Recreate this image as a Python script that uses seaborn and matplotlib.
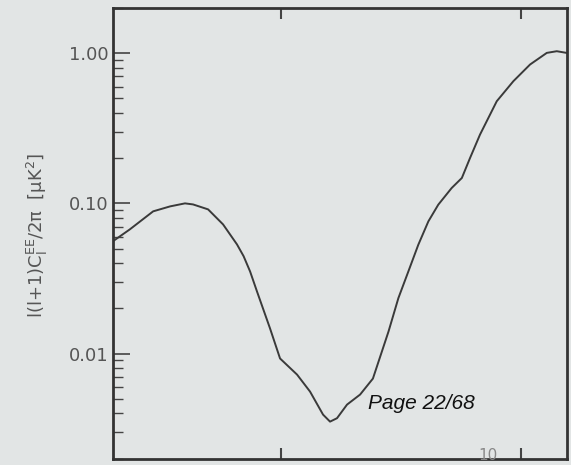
import numpy as np
import pandas as pd
import matplotlib
matplotlib.use("Agg")
import matplotlib.pyplot as plt
import matplotlib.ticker as mticker
import seaborn as sns

# multipole and EE power l(l+1)C_l/2pi [uK^2]
ell = [2.0, 2.35, 2.94, 3.46, 3.99, 4.31, 4.98, 5.75, 6.57, 7.0, 7.45, 7.96,
       9.02, 9.93, 11.69, 13.24, 15.0, 16.04, 17.15, 18.88, 21.4, 24.2, 28.1,
       30.9, 34.0, 37.4, 41.2, 45.3, 51.5, 56.8, 61.4, 67.6, 79.4, 93.1,
       109.3, 128.3, 141.2, 155.0]
cl_ee = [0.056, 0.0671, 0.0885, 0.0955, 0.100, 0.0984, 0.0912, 0.0724, 0.0533,
         0.0445, 0.0352, 0.0259, 0.0147, 0.00927, 0.00724, 0.00558, 0.00392,
         0.00352, 0.00371, 0.00457, 0.00533, 0.00681, 0.0140, 0.0234, 0.0352,
         0.053, 0.0759, 0.098, 0.1265, 0.1476, 0.20, 0.287, 0.479, 0.651,
         0.841, 1.005, 1.031, 1.005]
x_ticks = [10, 100]
y_ticks = [0.01, 0.1, 1.0]
y_tick_labels = ["0.01", "0.10", "1.00"]

df = pd.DataFrame({"ell": ell, "cl": cl_ee})

bg = "#e2e5e5"
sns.set_theme(style="ticks")
plt.rcParams["font.family"] = ["DejaVu Sans"]

fig = plt.figure(figsize=(5.71, 4.65), dpi=100, facecolor=bg)
ax = fig.add_axes([113 / 571, 1 - 458.5 / 465, (566.5 - 113) / 571, (458.5 - 8) / 465])
ax.set_facecolor(bg)

sns.lineplot(data=df, x="ell", y="cl", ax=ax, color="#3a3a3a", linewidth=1.4,
             sort=False, estimator=None)

ax.set_xscale("log")
ax.set_yscale("log")
ax.set_xlim(2, 155)
ax.set_ylim(0.002, 2.0)

ax.xaxis.set_major_locator(mticker.FixedLocator(x_ticks))
ax.xaxis.set_minor_locator(mticker.NullLocator())
ax.yaxis.set_major_locator(mticker.FixedLocator(y_ticks))
ax.yaxis.set_major_formatter(mticker.FixedFormatter(y_tick_labels))
ax.yaxis.set_minor_locator(mticker.LogLocator(base=10, subs=np.arange(2, 10)))
ax.yaxis.set_minor_formatter(mticker.NullFormatter())

ax.tick_params(axis="x", which="major", direction="in", length=8, width=1.5,
               color="#444", top=True, bottom=True, labelbottom=False)
ax.tick_params(axis="y", which="major", direction="in", length=12, width=1.2,
               color="#444", left=True, right=False, labelsize=13,
               labelcolor="#555", pad=3)
ax.tick_params(axis="y", which="minor", direction="in", length=7, width=1.0,
               color="#444", left=True, right=False)

for s in ax.spines.values():
    s.set_color("#333")
    s.set_linewidth(2)
    s.set_visible(True)

ax.set_xlabel("")
ax.set_ylabel("l(l+1)C$_\\mathrm{l}^\\mathrm{EE}$/2π  [μK$^2$]", fontsize=13,
              color="#555")
ax.yaxis.label.set_va("center")
ax.yaxis.set_label_coords((37 - 113) / 453.5, 0.495)

fig.text(368 / 571, 1 - 403 / 465, "Page 22/68", fontsize=15, style="italic",
         family=["Liberation Sans", "DejaVu Sans"], color="#111",
         ha="left", va="center")
fig.text(488 / 571, 1 - 463 / 465, "10", fontsize=11, color="#888",
         ha="center", va="bottom")

fig.savefig("out.png", dpi=100, facecolor=bg)
